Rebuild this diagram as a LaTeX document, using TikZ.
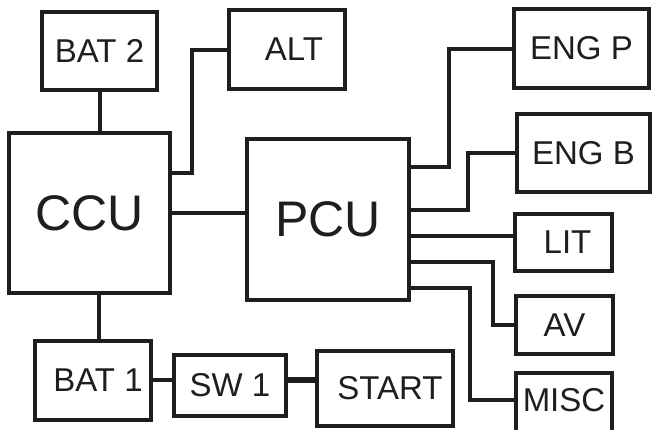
\documentclass[tikz,border=0pt]{standalone}
\usepackage{fontspec}
\setmainfont{Liberation Sans}
\definecolor{ink}{HTML}{1E1E1E}
\begin{document}
\begin{tikzpicture}[x=1pt,y=-1pt,
  box/.style={draw=ink, line width=4.5pt, rectangle, inner sep=0pt, text=ink, font=\fontsize{33}{36}\selectfont},
  bigbox/.style={box, font=\fontsize{50}{56}\selectfont},
  lbl/.style={inner sep=0pt, text=ink, font=\fontsize{33}{36}\selectfont},
  wire/.style={draw=ink, line width=4pt},
  thickwire/.style={draw=ink, line width=5.5pt}]
\useasboundingbox[fill=white] (0,0) rectangle (653,429);
% boxes
\node[box, minimum width=115pt, minimum height=78pt] (BAT2) at (99.5,51) {BAT 2};
\node[box, minimum width=116pt, minimum height=79pt] (ALT) at (287,49.5) {\hspace*{14pt}ALT};
\node[box, minimum width=135pt, minimum height=79pt] (ENGP) at (581.5,48.5) {ENG P};
\node[box, minimum width=133pt, minimum height=78pt] (ENGB) at (583.5,153) {ENG B};
\node[bigbox, minimum width=161pt, minimum height=160pt] (CCU) at (89.5,213) {CCU};
\node[bigbox, minimum width=162pt, minimum height=161pt] (PCU) at (328,219.5) {PCU};
\node[box, minimum width=97pt, minimum height=57pt] (LIT) at (563.5,242.5) {\hspace*{8pt}LIT};
\node[box, minimum width=97pt, minimum height=58pt] (AV) at (564.5,325) {AV};
\node[box, minimum width=96pt, minimum height=80pt] (MISC) at (564,413) {};
\node[lbl] (MISCt) at (564,400) {MISC};
\node[box, minimum width=116pt, minimum height=79pt] (BAT1) at (93,380.5) {\hspace*{10pt}BAT 1};
\node[box, minimum width=112pt, minimum height=61pt] (SW1) at (230,385.5) {SW 1};
\node[box, minimum width=136pt, minimum height=75pt] (START) at (385,388.5) {\hspace*{10pt}START};
% bend points
\coordinate (c1) at (192,173);
\coordinate (c2) at (99,300);
\coordinate (s1) at (300,380);
\coordinate (e1) at (449,167);
\coordinate (b1) at (468,210);
\coordinate (l1) at (460,236);
\coordinate (a1) at (493,262);
\coordinate (m1) at (470,288);
% connectors
\draw[wire] (BAT2.south) -- (BAT2.south |- CCU.north);
\draw[wire] (ALT.west) -| (c1) -- (CCU.east |- c1);
\draw[wire] (CCU.east) -- (CCU.east -| PCU.west);
\draw[wire] (CCU.south -| c2) -- (BAT1.north -| c2);
\draw[wire] (BAT1.east |- s1) -- (SW1.west |- s1);
\draw[thickwire] (SW1.east |- s1) -- (START.west |- s1);
\draw[wire] (PCU.east |- e1) -- (e1) |- (ENGP.west);
\draw[wire] (PCU.east |- b1) -- (b1) |- (ENGB.west);
\draw[wire] (PCU.east |- l1) -- (LIT.west |- l1);
\draw[wire] (PCU.east |- a1) -- (a1) |- (AV.west);
\draw[wire] (PCU.east |- m1) -- (m1) |- (MISC.west |- MISCt);
\end{tikzpicture}
\end{document}
